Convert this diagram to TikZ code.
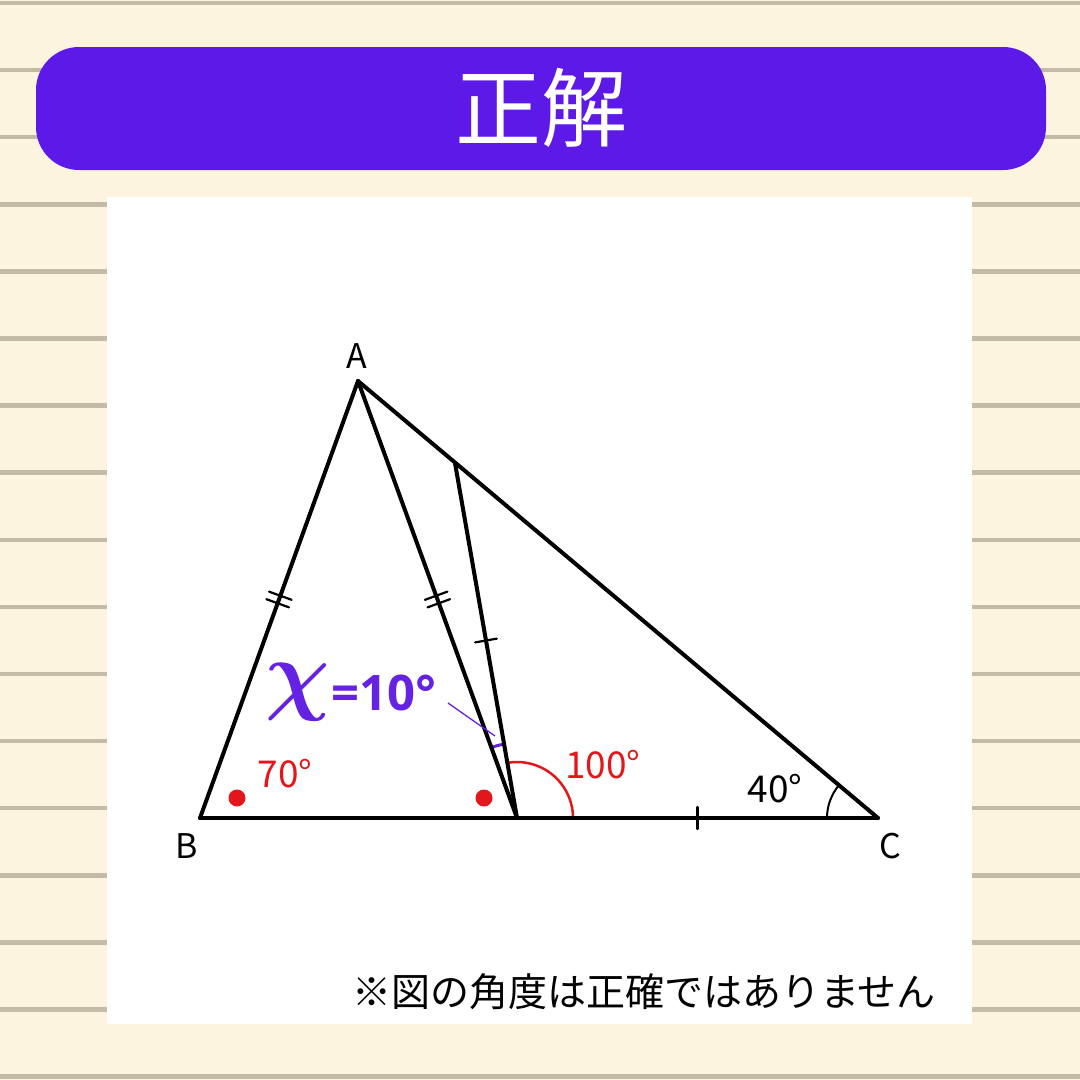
\documentclass[tikz,border=0pt]{standalone}
\usepackage{fontspec}
\setmainfont{Noto Sans CJK JP}
\newfontfamily\numfont{Open Sans}
\usetikzlibrary{calc,decorations.markings}

\definecolor{paper}{HTML}{FDF4E0}
\definecolor{ruled}{HTML}{C3BBA6}
\definecolor{banner}{HTML}{5D19E8}
\definecolor{angred}{HTML}{E3161B}
\definecolor{xpurple}{HTML}{6522E2}

\tikzset{
  figline/.style={line width=4pt,line cap=round,line join=round},
  singletick/.style={postaction={decorate,decoration={markings,
      mark=at position 0.5 with {\draw[line width=2.2pt] (0pt,-11pt) -- (0pt,11pt);}}}},
  doubletick/.style={postaction={decorate,decoration={markings,
      mark=at position 0.5 with {\draw[line width=2.2pt] (-4pt,-12pt) -- (-4pt,12pt);
                                 \draw[line width=2.2pt] (4pt,-12pt) -- (4pt,12pt);}}}},
  vlabel/.style={font=\fontsize{34}{34}\selectfont},
  alabel/.style={font=\fontsize{37}{37}\selectfont},
}

\begin{document}
\begin{tikzpicture}[x=1pt,y=-1pt]
\useasboundingbox (0,0) rectangle (1080,1080);

%paper
\fill[paper] (0,0) rectangle (1080,1080);
\foreach \i in {0,...,16}
	\draw[ruled,line width=4.5pt] (0,{3+67.1*\i}) -- (1080,{3+67.1*\i});

%title
\fill[banner,rounded corners=43pt] (36,47) rectangle (1046,170);
\node[text=white,font=\fontsize{86}{86}\selectfont] (title) at (541,108) {正解};

%panel
\fill[white] (107,197) rectangle (972,1024);

%points
\coordinate (A) at (358,381);
\coordinate (B) at (200,818);
\coordinate (C) at (878,818);
\coordinate (D) at (517,818);
\coordinate (E) at (455,463);

%angle marks (y axis points down, so angles turn the other way)
\draw[angred,line width=2.5pt] ($(D)+(56,0)$) arc[start angle=0,end angle=-100,radius=56];
\draw[line width=2pt] ($(C)+(-51,0)$) arc[start angle=180,end angle=220,radius=51];
\draw[xpurple,line width=3pt] ($(D)+(-110:75)$) arc[start angle=-110,end angle=-100,radius=75];
\fill[angred] (237,798) circle[radius=8.5];
\fill[angred] (484,798) circle[radius=8.5];

%sides
\draw[figline,doubletick] (A) -- (B);
\draw[figline,doubletick] (A) -- (D);
\draw[figline,singletick] (D) -- (E);
\draw[figline] (B) -- (D);
\draw[figline,singletick] (D) -- (C);
\draw[figline] (A) -- (C);

%vertex labels
\node[vlabel] (lA) at (357,356) {A};
\node[vlabel] (lB) at (187,846) {B};
\node[vlabel] (lC) at (890,846) {C};

%angle labels
\node[alabel,text=angred] (l70) at (285,774) {70°};
\node[alabel,text=angred] (l100) at (603,765) {100°};
\node[alabel] (l40) at (775,789) {40°};

%answer
\node[text=xpurple,inner sep=0pt] (xsym) at (298,692) {\scalebox{9}{\boldmath$\chi$}};
\node[text=xpurple,font=\numfont\bfseries\fontsize{49}{49}\selectfont,anchor=west,inner sep=0pt] (xval) at (331,693) {=10°};
\coordinate (xtip) at (495,736);
\draw[xpurple,line width=1.3pt] (448,703) -- (xtip);

%note
\node[font=\fontsize{39}{39}\selectfont] (note) at (644,992) {※図の角度は正確ではありません};

\end{tikzpicture}
\end{document}
